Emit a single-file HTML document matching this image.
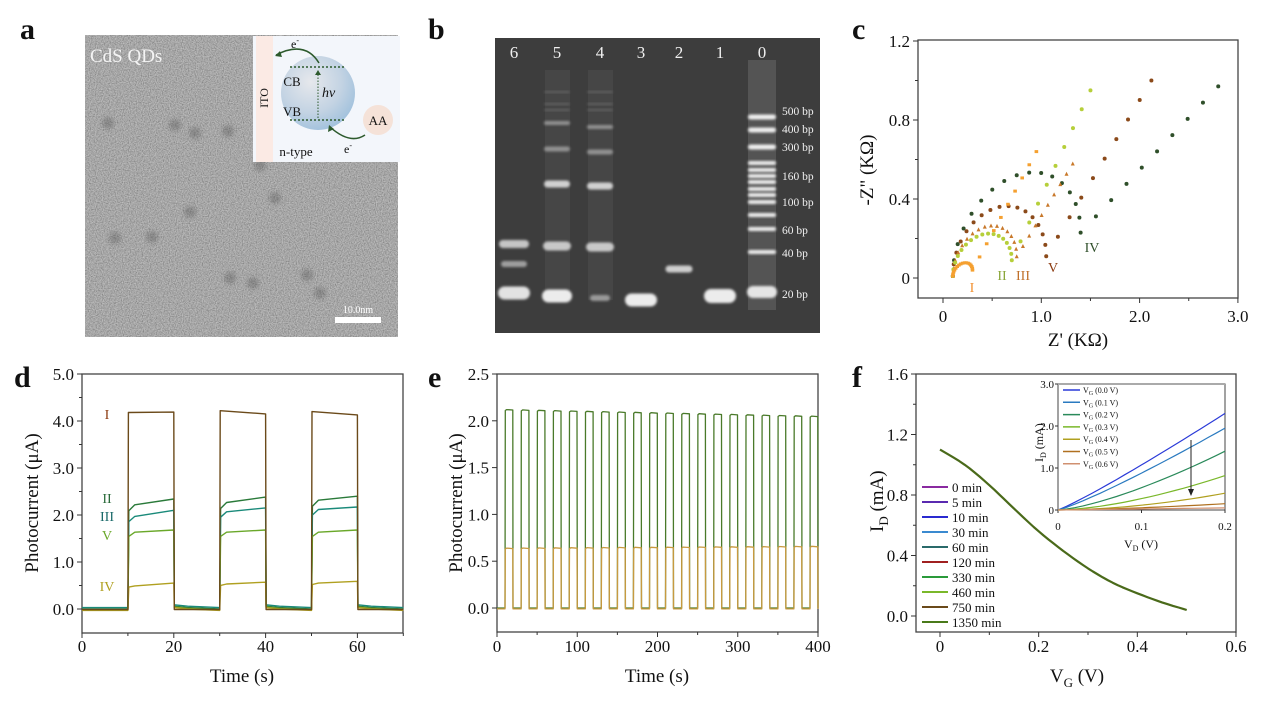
<!DOCTYPE html>
<html><head><meta charset="utf-8">
<style>
html,body{margin:0;padding:0;background:#fff;}
svg{display:block;font-family:"Liberation Serif",serif;}
</style></head><body>
<svg id="s" width="1269" height="707" viewBox="0 0 1269 707" xmlns="http://www.w3.org/2000/svg">
<defs>
<filter id="noise" x="0" y="0" width="100%" height="100%">
<feTurbulence type="fractalNoise" baseFrequency="0.85" numOctaves="2" seed="3"/>
<feColorMatrix type="matrix" values="1 0 0 0 0  1 0 0 0 0  1 0 0 0 0  0 0 0 0 1"/>
</filter>
<filter id="blur2" x="-50%" y="-50%" width="200%" height="200%"><feGaussianBlur stdDeviation="2"/></filter>
<filter id="blur1" x="-50%" y="-50%" width="200%" height="200%"><feGaussianBlur stdDeviation="1.2"/></filter>
<radialGradient id="sph" cx="0.4" cy="0.35" r="0.7">
<stop offset="0" stop-color="#e6e8ec"/><stop offset="0.6" stop-color="#c3d3e3"/><stop offset="1" stop-color="#9fc0dc"/>
</radialGradient>
</defs>
</svg>
<script>
const s=document.getElementById('s');let h=s.innerHTML;
function t(x,y,txt,o){o=o||{};h+=`<text x="${x}" y="${y}" font-size="${o.fs||16}" fill="${o.c||'#111'}" text-anchor="${o.a||'middle'}" ${o.w?'font-weight="bold"':''} ${o.r?`transform="rotate(-90 ${x} ${y})"`:''} ${o.it?'font-style="italic"':''}>${txt}</text>`;}
function L(x1,y1,x2,y2,c,w){h+=`<line x1="${x1}" y1="${y1}" x2="${x2}" y2="${y2}" stroke="${c||'#333'}" stroke-width="${w||1}"/>`;}
function P(pts,c,w){h+=`<polyline fill="none" stroke="${c}" stroke-width="${w||1.3}" stroke-linejoin="round" points="${pts.map(p=>p[0].toFixed(1)+','+p[1].toFixed(1)).join(' ')}"/>`;}
function box(x0,y0,x1,y1){h+=`<rect x="${x0}" y="${y0}" width="${x1-x0}" height="${y1-y0}" fill="none" stroke="#444" stroke-width="1.3"/>`;}
t(20,39,'a',{fs:30,w:1,a:'start'});t(428,39,'b',{fs:30,w:1,a:'start'});t(852,39,'c',{fs:30,w:1,a:'start'});
t(14,387,'d',{fs:30,w:1,a:'start'});t(428,387,'e',{fs:30,w:1,a:'start'});t(852,387,'f',{fs:30,w:1,a:'start'});
// ---- a: TEM
h+=`<rect x="85" y="35" width="313" height="302" fill="#888"/>`;
h+=`<rect x="85" y="35" width="313" height="302" filter="url(#noise)" opacity="0.6"/>`;
[[108,123],[195,133],[228,131],[275,198],[190,212],[115,238],[152,237],[230,278],[253,283],[307,275],[320,293],[175,125],[260,165]].forEach(p=>h+=`<circle cx="${p[0]}" cy="${p[1]}" r="6" fill="#444" opacity="0.3" filter="url(#blur2)"/>`);
t(90,62,'CdS QDs',{fs:19,c:'#f4f4f4',a:'start'});
h+=`<rect x="335" y="317" width="46" height="6" fill="#fff"/>`;t(358,313,'10.0nm',{fs:10,c:'#fff'});
h+=`<rect x="253" y="36" width="147" height="126" fill="#f3f6fb"/><rect x="256" y="36" width="17" height="126" fill="#fbeae4"/>`;
h+=`<circle cx="318" cy="93" r="37" fill="url(#sph)"/>`;
h+=`<line x1="290" y1="67" x2="345" y2="67" stroke="#2d5a2d" stroke-width="1.6" stroke-dasharray="2,2"/><line x1="290" y1="120" x2="345" y2="120" stroke="#2d5a2d" stroke-width="1.6" stroke-dasharray="2,2"/>`;
h+=`<line x1="318" y1="118" x2="318" y2="72" stroke="#2d5a2d" stroke-width="1" stroke-dasharray="1.5,1.5"/><path d="M315,75 L318,70 L321,75z" fill="#2d5a2d"/>`;
h+=`<path d="M319,63 Q305,40 276,55" fill="none" stroke="#2d5a2d" stroke-width="1.5"/><path d="M280,51 L275,56 L282,57z" fill="#2d5a2d"/>`;
h+=`<path d="M365,135 Q350,145 330,127" fill="none" stroke="#2d5a2d" stroke-width="1.5"/><path d="M328,132 L329,125 L334,129z" fill="#2d5a2d"/>`;
h+=`<circle cx="378" cy="120" r="15" fill="#f5e2d8"/>`;t(378,125,'AA',{fs:13});
t(295,48,'e<tspan font-size="8" dy="-5">-</tspan>',{fs:12});t(348,153,'e<tspan font-size="8" dy="-5">-</tspan>',{fs:12});
t(292,86,'CB',{fs:13});t(292,116,'VB',{fs:13});t(322,97,'hv',{fs:14,it:1,a:'start'});
t(268,98,'ITO',{fs:12,r:1});t(296,156,'n-type',{fs:13});
// ---- b: gel
h+=`<rect x="495" y="38" width="325" height="295" fill="#3d3d3d"/>`;
const lanes=[514,557,600,641,679,720,762];
['6','5','4','3','2','1','0'].forEach((n,i)=>t(lanes[i],58,n,{fs:17,c:'#f0f0f0'}));
function band(x,y,w,hh,op){h+=`<rect x="${x-w/2}" y="${y-hh/2}" width="${w}" height="${hh}" rx="${hh/2}" fill="#fff" opacity="${op}" filter="url(#blur1)"/>`;}
h+=`<rect x="545" y="70" width="25" height="230" fill="#fff" opacity="0.05"/><rect x="588" y="70" width="25" height="230" fill="#fff" opacity="0.05"/><rect x="748" y="60" width="28" height="250" fill="#fff" opacity="0.12"/>`;
band(514,244,30,8,0.7);band(514,264,26,6,0.5);band(514,293,32,13,0.85);
band(557,123,26,4,0.4);band(557,149,26,5,0.4);band(557,184,26,7,0.75);band(557,246,28,9,0.7);band(557,296,30,13,0.9);
[92,104,110].forEach(y=>{band(557,y,26,2,0.15);band(600,y,26,2,0.15);});
band(600,127,26,4,0.4);band(600,152,26,5,0.4);band(600,186,26,7,0.75);band(600,247,28,9,0.7);band(600,298,20,6,0.45);
band(641,300,32,13,0.9);band(679,269,27,7,0.75);band(720,296,32,14,0.9);
[117,130,147,163,170,176,182,189,195,202,215,229,252].forEach((y,i)=>band(762,y,28,i<3?5:4,0.9));band(762,292,30,12,0.85);
[['500 bp',115],['400 bp',133],['300 bp',151],['160 bp',180],['100 bp',206],['60 bp',234],['40 bp',257],['20 bp',298]].forEach(a=>t(782,a[1],a[0],{fs:11.5,c:'#f0f0f0',a:'start'}));
// ---- c
box(918,40,1238,298);
const cx=v=>943+v*98.3, cy=v=>278-v*197.5;
[0,1,2,3].forEach(v=>{L(cx(v),298,cx(v),303);t(cx(v),322,v==0?'0':v.toFixed(1),{fs:17});});
[0.5,1.5,2.5].forEach(v=>L(cx(v),298,cx(v),301));
[0,0.4,0.8,1.2].forEach(v=>{L(913,cy(v),918,cy(v));t(910,cy(v)+6,v==0?'0':v.toFixed(1),{fs:17,a:'end'});});
[0.2,0.6,1.0].forEach(v=>L(915,cy(v),918,cy(v)));
t(1078,346,"Z' (KΩ)",{fs:19});t(873,170,'-Z" (KΩ)',{fs:19,r:1});
function nyq(r0,r1,pk,ymin,end,col,shape){let pts=[];const n=16;for(let i=0;i<=n;i++){const a=Math.PI*i/n;const x=r0+(r1-r0)*(1-Math.cos(a))/2;const y=pk*Math.sin(a)+ymin*(1-Math.cos(a))/2+0.01;pts.push([x,y]);}
const ys=pts[n][1];const m=9;for(let i=1;i<=m;i++){const f=i/m;pts.push([r1+(end[0]-r1)*f,ys+(end[1]-ys)*f]);}
pts.forEach(p=>{const X=cx(p[0]),Y=cy(p[1]);if(shape=='t')h+=`<path d="M${X-2},${Y+2}L${X},${Y-2}L${X+2},${Y+2}z" fill="${col}"/>`;else if(shape=='s')h+=`<rect x="${X-1.8}" y="${Y-1.5}" width="3.6" height="3" fill="${col}"/>`;else h+=`<circle cx="${X}" cy="${Y}" r="2" fill="${col}"/>`;});}
nyq(0.1,1.4,0.4,0.22,[2.8,0.97],'#2f4f2a','c');
nyq(0.1,1.05,0.3,0.1,[2.12,1.0],'#8b4a1a','c');
nyq(0.1,0.75,0.2,0.1,[1.32,0.58],'#c8782a','t');
nyq(0.1,0.7,0.17,0.08,[1.5,0.95],'#b6cf3a','c');
nyq(0.1,0.3,0.05,0.03,[0.95,0.64],'#f5a030','s');
t(972,292,'I',{fs:14,c:'#f29030'});t(1002,280,'II',{fs:14,c:'#8aa63a'});t(1023,280,'III',{fs:14,c:'#c0702a'});t(1053,272,'V',{fs:14,c:'#8b3a10'});t(1092,252,'IV',{fs:14,c:'#2f4f2a'});
// ---- d
box(82,374,403,633);
const dx=v=>82+v*4.59, dy=v=>609-v*47;
[0,20,40,60].forEach(v=>{L(dx(v),633,dx(v),638);t(dx(v),652,v,{fs:17});});[10,30,50,70].forEach(v=>L(dx(v),633,dx(v),636));
[0,1,2,3,4,5].forEach(v=>{L(77,dy(v),82,dy(v));t(74,dy(v)+6,v.toFixed(1),{fs:17,a:'end'});});[0.5,1.5,2.5,3.5,4.5].forEach(v=>L(79,dy(v),82,dy(v)));
t(242,682,'Time (s)',{fs:19});t(38,503,'Photocurrent (μA)',{fs:19,r:1});
function dser(levels,c,base){let p=[[dx(0),dy(base)]];[10,30,50].forEach((t0,k)=>{const [a,b]=levels[k];p.push([dx(t0),dy(base)],[dx(t0+0.2),dy(a*0.93)],[dx(t0+1.5),dy(a*0.985)],[dx(t0+10),dy(b)],[dx(t0+10.1),dy(base+0.06)],[dx(t0+13),dy(base+0.03)],[dx(t0+20),dy(base)]);});p.push([dx(70),dy(base)]);P(p,c,1.4);}
dser([[2.25,2.34],[2.3,2.38],[2.35,2.4]],'#2a7a3a',0.0);
dser([[2.0,2.1],[2.1,2.15],[2.15,2.17]],'#1a8a7a',0.03);
dser([[1.66,1.68],[1.66,1.68],[1.66,1.68]],'#6aa82a',-0.02);
dser([[0.5,0.55],[0.54,0.57],[0.56,0.59]],'#b0a020',-0.03);
P([[dx(0),dy(-0.01)],[dx(10),dy(-0.01)],[dx(10.1),dy(4.18)],[dx(20),dy(4.19)],[dx(20.1),dy(-0.01)],[dx(30),dy(-0.01)],[dx(30.1),dy(4.22)],[dx(40),dy(4.15)],[dx(40.1),dy(-0.01)],[dx(50),dy(-0.01)],[dx(50.1),dy(4.2)],[dx(60),dy(4.13)],[dx(60.1),dy(-0.01)],[dx(70),dy(-0.01)]],'#6b4a1a',1.4);
t(107,419,'I',{fs:14,c:'#8b3a10'});t(107,503,'II',{fs:14,c:'#2a6a3a'});t(107,521,'III',{fs:14,c:'#1a6a6a'});t(107,540,'V',{fs:14,c:'#6aa82a'});t(107,591,'IV',{fs:14,c:'#b0a020'});
// ---- e
box(497,374,818,632);
const ex=v=>497+v*0.8025, ey=v=>608-v*93.6;
[0,100,200,300,400].forEach(v=>{L(ex(v),632,ex(v),637);t(ex(v),652,v,{fs:17});});[50,150,250,350].forEach(v=>L(ex(v),632,ex(v),635));
[0,0.5,1,1.5,2,2.5].forEach(v=>{L(492,ey(v),497,ey(v));t(489,ey(v)+6,v.toFixed(1),{fs:17,a:'end'});});
t(657,682,'Time (s)',{fs:19});t(462,503,'Photocurrent (μA)',{fs:19,r:1});
function eser(f,c,base){let p=[[ex(0),ey(base)]];for(let k=0;k<20;k++){const t0=10+20*k;const a=f(k);p.push([ex(t0),ey(base)],[ex(t0+0.3),ey(a-0.01)],[ex(t0+2),ey(a)],[ex(t0+9.7),ey(a-0.005)],[ex(t0+10),ey(base)]);if(k<19)p.push([ex(t0+20),ey(base)]);}P(p,c,1.3);}
eser(k=>2.12-k*0.0037,'#4a7a2a',0.0);
eser(k=>0.64+k*0.001,'#c89a40',-0.01);
// ---- f
box(916,374,1236,632);
const fx=v=>940+v*493.3, fy=v=>616-v*151.25;
[0,0.2,0.4,0.6].forEach(v=>{L(fx(v),632,fx(v),637);t(fx(v),652,v==0?'0':v.toFixed(1),{fs:17});});[0.1,0.3,0.5].forEach(v=>L(fx(v),632,fx(v),635));
[0,0.4,0.8,1.2,1.6].forEach(v=>{L(911,fy(v),916,fy(v));t(908,fy(v)+6,v.toFixed(1),{fs:17,a:'end'});});[0.2,0.6,1.0,1.4].forEach(v=>L(913,fy(v),916,fy(v)));
t(1077,682,'V<tspan font-size="13" dy="5">G</tspan><tspan dy="-5"> (V)</tspan>',{fs:19});
h+=`<text transform="translate(883,532) rotate(-90)" font-size="19" fill="#111">I<tspan font-size="13" dy="5">D</tspan><tspan dy="-5"> (mA)</tspan></text>`;
const fd=[[0,1.1],[0.05,1.0],[0.1,0.865],[0.15,0.71],[0.2,0.56],[0.25,0.43],[0.3,0.315],[0.35,0.22],[0.4,0.15],[0.45,0.09],[0.5,0.04]];
let cp=[];for(let i=0;i<fd.length-1;i++){const p0=fd[Math.max(i-1,0)],p1=fd[i],p2=fd[i+1],p3=fd[Math.min(i+2,fd.length-1)];for(let k=0;k<5;k++){const u=k/5;const cr=(a,b,c,d)=>0.5*((2*b)+(-a+c)*u+(2*a-5*b+4*c-d)*u*u+(-a+3*b-3*c+d)*u*u*u);cp.push([fx(cr(p0[0],p1[0],p2[0],p3[0])),fy(cr(p0[1],p1[1],p2[1],p3[1]))]);}}
cp.push([fx(0.5),fy(0.04)]);
P(cp,'#4a6a1a',2.2);
const leg=[['0 min','#8a2aa0'],['5 min','#5a2ab0'],['10 min','#2a2ad0'],['30 min','#3a8ad0'],['60 min','#2a6a6a'],['120 min','#a02020'],['330 min','#2a9a3a'],['460 min','#7ab82a'],['750 min','#6a4a1a'],['1350 min','#4a7a1a']];
leg.forEach((l,i)=>{const y=487+i*15;L(922,y,948,y,l[1],2);t(952,y+5,l[0],{fs:13,a:'start'});});
h+=`<rect x="1058" y="384" width="167" height="126" fill="#fff" stroke="#444" stroke-width="1"/><line x1="1058" y1="384" x2="1225" y2="384" stroke="#aaa" stroke-width="2"/>`;
const ix=v=>1058+v*835, iy=v=>510-v*42;
[0,0.1,0.2].forEach(v=>{L(ix(v),510,ix(v),513);t(ix(v),530,v==0?'0':v,{fs:11});});
[0,1,2,3].forEach(v=>{L(1055,iy(v),1058,iy(v));t(1054,iy(v)+4,v.toFixed(v?1:0),{fs:11,a:'end'});});
t(1141,548,'V<tspan font-size="8" dy="3">D</tspan><tspan dy="-3"> (V)</tspan>',{fs:12});
h+=`<text transform="translate(1043,462) rotate(-90)" font-size="12" fill="#111">I<tspan font-size="8" dy="3">D</tspan><tspan dy="-3"> (mA)</tspan></text>`;
const ic=[['#2a3ad8',2.3,1.1],['#2a7ac0',1.95,1.15],['#2a8a5a',1.4,1.4],['#7ab82a',0.82,1.6],['#b0a020',0.4,1.8],['#b07020',0.15,1.5],['#d09070',0.05,1]];
ic.forEach((c,i)=>{let p=[];for(let k=0;k<=20;k++){const v=k*0.01;p.push([ix(v),iy(c[1]*Math.pow(v/0.2,c[2]))]);}P(p,c[0],1.2);
const y=390+i*12.3;L(1063,y,1080,y,c[0],1.5);t(1083,y+3,'V<tspan font-size="6" dy="2">G</tspan><tspan dy="-2"> (0.'+i+' V)</tspan>',{fs:8,a:'start'});});
L(1191,440,1191,493,'#222',1);h+=`<path d="M1188,489 L1191,496 L1194,489z" fill="#222"/>`;
s.innerHTML=h;
</script>
</body></html>
